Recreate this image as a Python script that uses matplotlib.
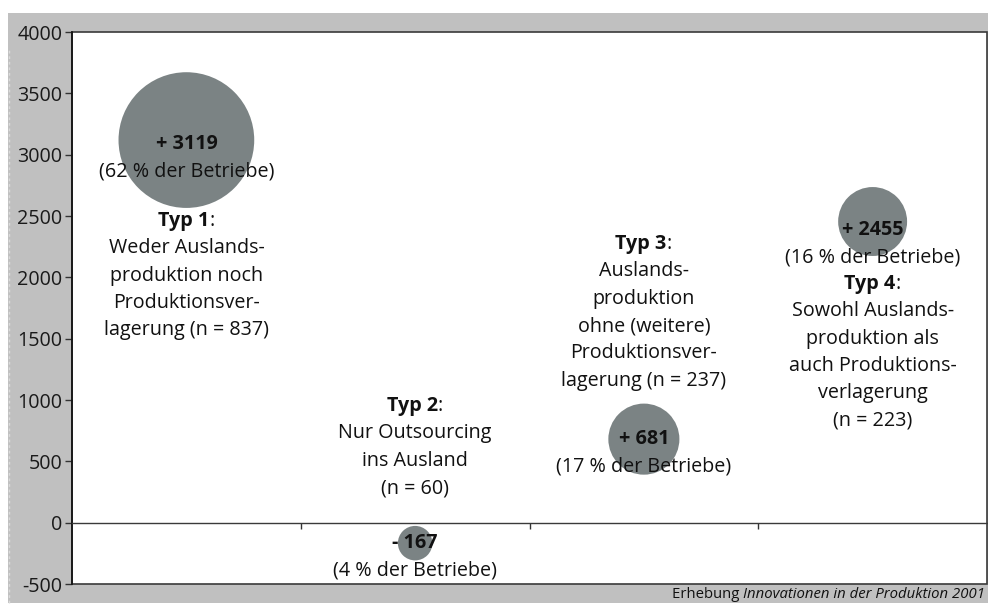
"""Blasendiagramm: Beschäftigungseffekte nach Typ der Auslandsaktivität."""
import matplotlib.pyplot as plt
from matplotlib.patches import Rectangle
from matplotlib.lines import Line2D

plt.rcParams["font.family"] = ["Open Sans", "DejaVu Sans"]

# --- Daten ---
typ_pos = [1, 2, 3, 4]
saldo = [3119, -167, 681, 2455]
anteil = [62, 4, 17, 16]          # % der Betriebe -> Blasengröße
typ_titel = ["Typ 1", "Typ 2", "Typ 3", "Typ 4"]
typ_text = [
    ["Weder Auslands-", "produktion noch", "Produktionsver-", "lagerung (n = 837)"],
    ["Nur Outsourcing", "ins Ausland", "(n = 60)"],
    ["Auslands-", "produktion", "ohne (weitere)", "Produktionsver-", "lagerung (n = 237)"],
    ["Sowohl Auslands-", "produktion als", "auch Produktions-", "verlagerung", "(n = 223)"],
]
titel_y = [2459, 950, 2272, 1946]
yticks = list(range(-500, 4001, 500))

BUBBLE = "#7b8384"
BG = "#c0c0c0"
FS = 14.2
LINE_PT = 19.7  # Zeilenabstand in pt
label_dy = [-3, 0, 0, -6]  # Versatz der Zahl zum Blasenmittelpunkt (pt)

fig = plt.figure(figsize=(9.88, 6.06), dpi=100, facecolor="white")
W, H = 988, 606
fig.patches.append(Rectangle((8 / W, 3 / H), 980 / W, 590 / H, transform=fig.transFigure,
                             facecolor=BG, edgecolor="none", zorder=-10))
fig.lines.append(Line2D([8.5 / W, 8.5 / W], [3 / H, 556 / H], transform=fig.transFigure,
                        color="#dadada", lw=1, ls=(0, (2, 2))))

ax = fig.add_axes([72 / W, 22 / H, 915 / W, 552 / H])
ax.set_xlim(0.5, 4.5)
ax.set_ylim(-500, 4000)
ax.patch.set_facecolor("white")
ax.patch.set_edgecolor("#3a3a3a")
ax.patch.set_linewidth(1.2)
for s in ("top", "right"):
    ax.spines[s].set_visible(False)
ax.spines["left"].set_color("#111111")
ax.spines["left"].set_linewidth(1.2)
ax.spines["bottom"].set_position(("data", 0))
ax.spines["bottom"].set_color("#3a3a3a")
ax.spines["bottom"].set_linewidth(1.0)

ax.set_yticks(yticks)
ax.set_yticklabels([str(v) for v in yticks], fontsize=FS, color="#1a1a1a")
ax.set_xticks([1.5, 2.5, 3.5])
ax.set_xticklabels([])
ax.tick_params(axis="y", direction="out", length=5, width=1, color="#333333", pad=2)
ax.tick_params(axis="x", direction="out", length=4, width=1, color="#333333")

ax.scatter(typ_pos, saldo, s=[a * 154 for a in anteil], color=BUBBLE,
           edgecolors="none", zorder=2)

for i, (x, y) in enumerate(zip(typ_pos, saldo)):
    sign = "+" if y >= 0 else "-"
    ax.annotate(f"{sign} {abs(y)}", xy=(x, y), xytext=(0, label_dy[i]),
                textcoords="offset points", ha="center", va="center",
                fontsize=FS, fontweight="bold", color="#111111", zorder=3)
    ax.annotate(f"({anteil[i]} % der Betriebe)", xy=(x, y),
                xytext=(0, label_dy[i] - LINE_PT), textcoords="offset points",
                ha="center", va="center", fontsize=FS, color="#111111", zorder=3)

for i, x in enumerate(typ_pos):
    t = ax.annotate(typ_titel[i], xy=(x, titel_y[i]), xytext=(-2, 0),
                    textcoords="offset points", ha="center", va="center",
                    fontsize=FS, fontweight="bold", color="#111111")
    ax.annotate(":", xy=(1, 0.5), xycoords=t, ha="left", va="center",
                fontsize=FS, color="#111111")
    for j, line in enumerate(typ_text[i]):
        ax.annotate(line, xy=(x, titel_y[i]), xytext=(0, -(j + 1) * LINE_PT),
                    textcoords="offset points", ha="center", va="center",
                    fontsize=FS, color="#111111")

src = fig.text(985 / W, 1 - 594 / H, "Innovationen in der Produktion 2001",
               ha="right", va="center", fontsize=10.7, style="italic", color="#111111")
ax.annotate("Erhebung ", xy=(0, 0.5), xycoords=src, ha="right", va="center",
            fontsize=10.7, color="#111111", annotation_clip=False)

fig.savefig("out.png", dpi=100, facecolor="white")
